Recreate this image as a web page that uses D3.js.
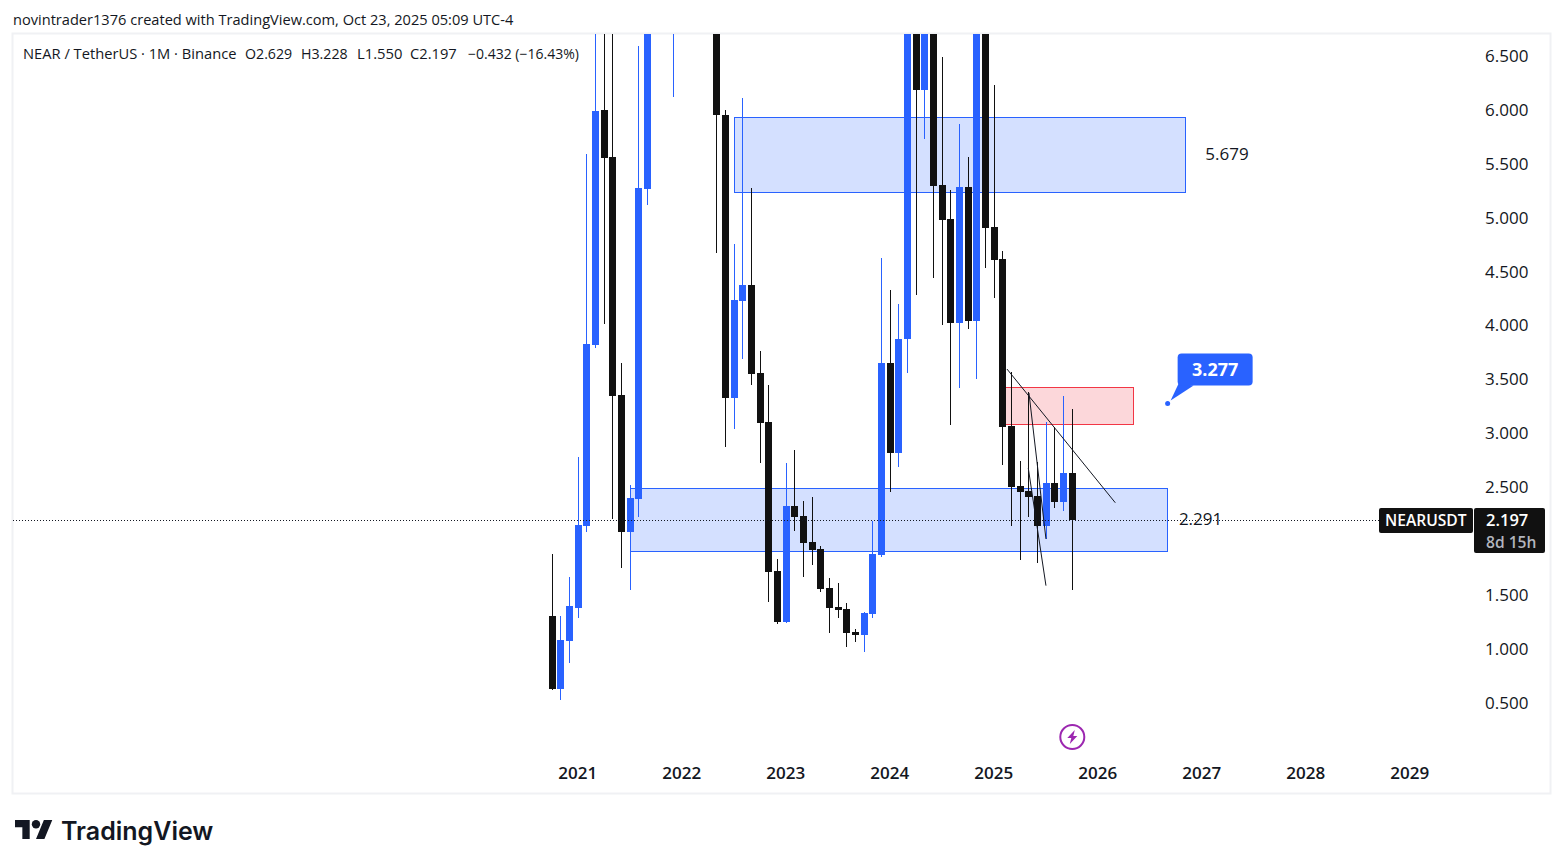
<!DOCTYPE html>
<html>
<head>
<meta charset="utf-8">
<script src="https://cdnjs.cloudflare.com/ajax/libs/d3/7.8.5/d3.min.js"></script>
<style>
	body { margin: 0; background: #fff; }
	svg { display: block; }
	text { font-family: "Open Sans", "Noto Sans", sans-serif; fill: #131722; }
	.axis text { font-size: 17px; font-weight: 500; }
	.x.axis text { font-weight: 600; }
	.axis path, .axis line { display: none; }
</style>
</head>
<body>
<div id="chart_area"></div>
<script>

// Monthly candles, Oct 2020 to Oct 2025. Values above 6.7 are off the visible pane and are estimated.
var opens = [1.307,0.630,1.075,1.381,2.141,3.820,5.999,5.563,3.356,2.086,2.392,5.267,8.4,11.9,10.2,15.0,10.9,8.6,15.8,9.7,
	5.953,3.328,4.228,4.376,3.560,3.106,1.724,1.251,2.327,2.234,1.993,1.928,1.566,1.390,1.372,1.158,1.130,1.325,1.872,3.653,
	2.818,3.876,7.4,6.185,7.0,5.304,4.988,4.024,5.285,4.042,8.0,4.914,4.617,3.069,2.512,2.466,2.420,2.141,2.540,2.364,2.629];
var highs = [1.882,1.307,1.668,2.781,5.591,7.2,7.6,7.0,3.653,2.522,6.593,9.0,13.5,13.2,20.5,15.6,11.2,18.5,20.0,10.5,
	5.999,4.757,6.111,5.276,3.764,3.449,1.835,2.726,2.846,2.373,2.410,1.956,1.659,1.613,1.427,1.186,1.344,2.188,4.627,4.330,
	4.200,8.0,8.9,7.6,8.2,6.491,5.257,5.869,5.563,8.6,8.3,6.231,4.692,3.569,2.744,3.384,2.735,3.106,3.059,3.347,3.228];
var lows = [0.620,0.528,0.871,1.288,2.086,3.792,4.015,2.206,1.752,1.548,2.225,5.118,7.6,8.6,6.120,8.0,7.6,7.9,8.5,4.673,
	2.874,3.041,3.690,3.449,2.726,1.437,1.233,1.242,2.095,1.668,1.780,1.529,1.149,1.288,1.019,1.066,0.973,1.288,1.854,2.457,
	2.689,3.560,4.284,5.730,4.441,4.005,3.078,3.421,3.968,3.505,4.534,4.256,2.707,2.141,1.826,2.225,1.798,2.021,2.308,2.280,1.550];
var closes = [0.630,1.084,1.399,2.151,3.829,5.990,5.554,3.347,2.086,2.401,5.276,8.4,11.9,10.2,15.0,10.9,8.6,15.8,9.7,5.953,
	3.328,4.237,4.376,3.551,3.097,1.715,1.251,2.327,2.225,1.984,1.919,1.557,1.381,1.362,1.149,1.130,1.334,1.882,3.653,2.818,
	3.876,7.4,6.185,7.0,5.294,4.979,4.024,5.285,4.042,8.0,4.905,4.608,3.059,2.503,2.457,2.410,2.141,2.540,2.364,2.629,2.197];

var price_ticks = [0.5,1,1.5,2,2.5,3,3.5,4,4.5,5,5.5,6,6.5];
var year_ticks = [3,15,27,39,51,63,75,87,99];
var year_labels = ["2021","2022","2023","2024","2025","2026","2027","2028","2029"];

// Drawings, in bar index and price.
var zone_bars = [[21,73],[9,71],[52.2,67]];
var zone_prices = [[5.93,5.234],[2.494,1.909],[3.426,3.083]];
var zone_kinds = ["blue","blue","red"];
var trend_bars = [[52.46,64.96],[55.0,56.96],[54.92,56.96]];
var trend_prices = [[3.597,2.357],[3.375,2.021],[2.679,1.588]];
var note_texts = ["5.679","2.291"];
var note_bars = [77.85,74.8];
var note_prices = [5.60,2.215];

var last_bar = 60, last_close = 2.197;
var callout_bar = 71, callout_price = 3.277;

var frame_width = 1563, frame_height = 868;
var pane = {left: 13, right: 1550, top: 34, bottom: 793};

var frame = d3.select("#chart_area").append("svg")
	.attr("width", frame_width)
	.attr("height", frame_height);

var xScale = d3.scaleLinear().domain([0, 60]).range([552.3, 1072.3]);
var yScale = d3.scaleLinear().domain([-0.335, 6.704]).range([pane.bottom, pane.top]);

var BLUE = "#2962ff", BLACK = "#111111";

frame.append("defs").append("clipPath").attr("id", "pane_clip")
	.append("rect")
	.attr("x", pane.left).attr("y", pane.top)
	.attr("width", pane.right - pane.left).attr("height", pane.bottom - pane.top);

// pane border
frame.append("rect")
	.attr("x", pane.left - 0.5).attr("y", pane.top - 0.5)
	.attr("width", pane.right - pane.left + 1).attr("height", pane.bottom - pane.top + 1)
	.attr("fill", "none").attr("stroke", "#f0f1f4").attr("stroke-width", 2);

var canvas = frame.append("g").attr("clip-path", "url(#pane_clip)");

// zones sit behind the candles
canvas.selectAll(".zone").data(zone_bars).enter().append("rect")
	.attr("class", "zone")
	.attr("x", function(d) { return Math.round(xScale(d[0])) + 0.5; })
	.attr("width", function(d) { return Math.round(xScale(d[1]) - xScale(d[0])); })
	.attr("y", function(d, i) { return Math.round(yScale(zone_prices[i][0])) + 0.5; })
	.attr("height", function(d, i) { return Math.round(yScale(zone_prices[i][1]) - yScale(zone_prices[i][0])); })
	.attr("fill", function(d, i) { return zone_kinds[i] == "blue" ? "rgba(41,98,255,0.2)" : "rgba(242,54,69,0.2)"; })
	.attr("stroke", function(d, i) { return zone_kinds[i] == "blue" ? BLUE : "#f23645"; })
	.attr("stroke-width", 1);

function candleColour(i) { return closes[i] >= opens[i] ? BLUE : BLACK; }

var candles = canvas.selectAll(".candle").data(d3.range(opens.length)).enter().append("g")
	.attr("class", "candle")
	.attr("shape-rendering", "crispEdges");

candles.append("rect")
	.attr("x", function(i) { return Math.floor(xScale(i)); })
	.attr("width", 1)
	.attr("y", function(i) { return yScale(highs[i]); })
	.attr("height", function(i) { return yScale(lows[i]) - yScale(highs[i]); })
	.attr("fill", candleColour);

candles.append("rect")
	.attr("x", function(i) { return Math.floor(xScale(i)) - 3; })
	.attr("width", 7)
	.attr("y", function(i) { return yScale(Math.max(opens[i], closes[i])); })
	.attr("height", function(i) { return Math.abs(yScale(opens[i]) - yScale(closes[i])); })
	.attr("fill", candleColour);

canvas.selectAll(".trend").data(trend_bars).enter().append("line")
	.attr("class", "trend")
	.attr("x1", function(d) { return xScale(d[0]); })
	.attr("x2", function(d) { return xScale(d[1]); })
	.attr("y1", function(d, i) { return yScale(trend_prices[i][0]); })
	.attr("y2", function(d, i) { return yScale(trend_prices[i][1]); })
	.attr("stroke", "#131722")
	.attr("stroke-width", 1);

// last price line
var last_y = Math.round(yScale(last_close));
canvas.append("line")
	.attr("x1", pane.left).attr("x2", 1380)
	.attr("y1", last_y + 0.5).attr("y2", last_y + 0.5)
	.attr("stroke", "#131722").attr("stroke-dasharray", "1,2");

canvas.selectAll(".note").data(note_texts).enter().append("text")
	.attr("class", "note")
	.attr("x", function(d, i) { return xScale(note_bars[i]); })
	.attr("y", function(d, i) { return yScale(note_prices[i]); })
	.attr("text-anchor", "middle").attr("dominant-baseline", "central")
	.style("font-size", "17px")
	.text(function(d) { return d; });

// callout
var cx = xScale(callout_bar), cy = yScale(callout_price);
var callout = frame.append("g").attr("transform", "translate(" + cx + "," + cy + ")");
callout.append("circle").attr("r", 2.5).attr("fill", BLUE);
callout.append("path")
	.attr("d", "M3,-3 L11,-20 L26,-18 Z")
	.attr("fill", BLUE);
callout.append("rect")
	.attr("x", 10).attr("y", -50).attr("width", 75).attr("height", 32).attr("rx", 4)
	.attr("fill", BLUE);
callout.append("text")
	.attr("x", 47.5).attr("y", -35)
	.attr("text-anchor", "middle").attr("dominant-baseline", "central")
	.style("font-size", "18px").style("font-weight", 700).style("fill", "#fff")
	.text("3.277");

// axes
var yAxis = d3.axisRight(yScale).tickValues(price_ticks).tickFormat(d3.format(".3f")).tickSize(0);
frame.append("g").attr("class", "y axis")
	.attr("transform", "translate(1485,-0.6)")
	.call(yAxis)
	.selectAll("text").attr("x", 0).attr("dy", "0.35em");

var xAxis = d3.axisBottom(xScale).tickValues(year_ticks)
	.tickFormat(function(d, i) { return year_labels[i]; }).tickSize(0);
frame.append("g").attr("class", "x axis")
	.attr("transform", "translate(-1,765)")
	.call(xAxis)
	.selectAll("text").attr("y", 0).attr("dy", "0.85em");

// price labels
var label_group = frame.append("g");
label_group.append("rect").attr("x", 1379).attr("y", last_y - 12).attr("width", 94).attr("height", 25).attr("rx", 2).attr("fill", BLACK);
label_group.append("rect").attr("x", 1474).attr("y", last_y - 12).attr("width", 71).attr("height", 45).attr("rx", 2).attr("fill", BLACK);
label_group.append("text").attr("x", 1385).attr("y", last_y).attr("dominant-baseline", "central")
	.style("font-size", "15.6px").style("font-weight", 600).style("fill", "#fff").text("NEARUSDT");
label_group.append("text").attr("x", 1486).attr("y", last_y - 0.5).attr("dominant-baseline", "central")
	.style("font-size", "16.5px").style("font-weight", 600).style("fill", "#fff").text(d3.format(".3f")(last_close));
label_group.append("text").attr("x", 1486).attr("y", last_y + 21.5).attr("dominant-baseline", "central")
	.style("font-size", "15.6px").style("font-weight", 600).style("fill", "#b2b5be").text("8d 15h");

// lightning marker under the last bar
var bolt = frame.append("g").attr("transform", "translate(" + xScale(last_bar) + ",737)");
bolt.append("circle").attr("r", 12).attr("fill", "#fff").attr("stroke", "#9c27b0").attr("stroke-width", 2);
bolt.append("path").attr("d", "M2.5,-7 L-5,1 L-1,1 L-2.5,7 L5,-1 L1,-1 Z").attr("fill", "#9c27b0");

// header
frame.append("text").attr("x", 13).attr("y", 25)
	.style("font-size", "14.6px")
	.text("novintrader1376 created with TradingView.com, Oct 23, 2025 05:09 UTC-4");

var legend_parts = ["NEAR / TetherUS · 1M · Binance", "O2.629", "H3.228", "L1.550", "C2.197", "−0.432 (−16.43%)"];
var legend_x = [23, 245, 301, 357, 410, 468];
var legend_sizes = ["14.7px", "14.2px", "14.2px", "14.8px", "14.7px", "14px"];
frame.selectAll(".legend").data(legend_parts).enter().append("text")
	.attr("class", "legend")
	.attr("x", function(d, i) { return legend_x[i]; })
	.attr("y", 59)
	.style("font-size", function(d, i) { return legend_sizes[i]; })
	.text(function(d) { return d; });

// logo
var logo = frame.append("g").attr("transform", "translate(15,815.8) scale(1.05)").attr("fill", "#131722");
logo.append("path").attr("d", "M14 22H7V11H0V4h14v18zM28 22h-8l7.5-18h8L28 22z");
logo.append("circle").attr("cx", 20).attr("cy", 8).attr("r", 4);
frame.append("text").attr("x", 61).attr("y", 840)
	.style("font-family", "Inter, sans-serif").style("font-size", "25px").style("font-weight", 600)
	.text("TradingView");

</script>
</body>
</html>
